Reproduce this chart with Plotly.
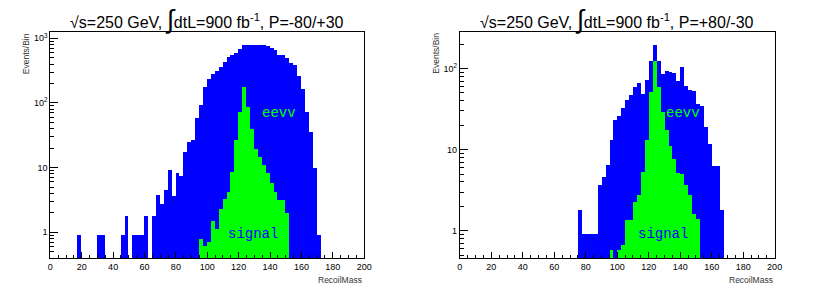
import numpy as np
import plotly.graph_objects as go

# ---- data (80 bins of 2.5 GeV from 0 to 200) ----
bin_edges = np.arange(0, 200.001, 2.5)
bin_centers = (bin_edges[:-1] + bin_edges[1:]) / 2

left_eevv = [
    0, 0, 0, 0, 0, 0, 0, 0.91, 0, 0,
    0, 0, 0.91, 0.91, 0, 0, 0, 0, 0.91, 1.81,
    0, 0.91, 0.91, 0.91, 1.81, 0, 1.81, 3.77, 2.74, 4.51,
    9.2, 3.64, 8.2, 7.4, 17.5, 24.9, 26.7, 58, 93, 175,
    235, 277, 316, 356, 435, 508, 552, 586, 683, 797,
    778, 787, 797, 778, 778, 769, 716, 659, 558, 552,
    490, 410, 386, 261, 162, 73, 36, 9.75, 0.91, 0,
    0, 0, 0, 0, 0, 0, 0, 0, 0, 0,
]
left_signal = [
    0, 0, 0, 0, 0, 0, 0, 0, 0, 0,
    0, 0, 0, 0, 0, 0, 0, 0, 0, 0,
    0, 0, 0, 0, 0, 0, 0, 0, 0, 0,
    0, 0, 0, 0, 0, 0, 0, 0, 0.79, 0.61,
    0.71, 1.5, 1.11, 2.27, 3.24, 4.15, 8.65, 26.7, 73, 175,
    86, 39, 19.2, 14.8, 11, 8.2, 5.85, 4.25, 3.16, 3.16,
    2.01, 0, 0, 0, 0, 0, 0, 0, 0, 0,
    0, 0, 0, 0, 0, 0, 0, 0, 0, 0,
]
right_eevv = [
    0, 0, 0, 0, 0, 0, 0, 0, 0, 0,
    0, 0, 0, 0, 0, 0, 0, 0, 0, 0,
    0, 0, 0, 0, 0, 0, 0, 0, 0, 0,
    1.8, 0.9, 0.9, 0.9, 0.9, 3.65, 4.6, 6.45, 13.1, 23.1,
    25.9, 32.2, 40.7, 46.9, 59.3, 66.5, 49.2, 71.8, 125, 194,
    124, 86.8, 93.5, 90.8, 88.3, 70.3, 104.7, 60.5, 54, 53,
    36.3, 34.3, 19.1, 11.7, 6.26, 6.26, 1.8, 0, 0, 0,
    0, 0, 0, 0, 0, 0, 0, 0, 0, 0,
]
right_signal = [
    0, 0, 0, 0, 0, 0, 0, 0, 0, 0,
    0, 0, 0, 0, 0, 0, 0, 0, 0, 0,
    0, 0, 0, 0, 0, 0, 0, 0, 0, 0,
    0, 0, 0, 0, 0, 0, 0, 0, 0.58, 0,
    0.58, 0.67, 1.36, 1.36, 2.28, 2.75, 5.33, 13.1, 51.5, 124,
    59.3, 29.2, 17.4, 11.0, 7.57, 5.09, 4.99, 3.65, 2.75, 1.6,
    1.4, 0, 0, 0, 0, 0, 0, 0, 0, 0,
    0, 0, 0, 0, 0, 0, 0, 0, 0, 0,
]

titles = [
    "√s=250 GeV, <span style='font-size:26px'>∫</span>dtL=900 fb<sup>-1</sup>, P=-80/+30",
    "√s=250 GeV, <span style='font-size:26px'>∫</span>dtL=900 fb<sup>-1</sup>, P=+80/-30",
]
x_tick_vals = list(range(0, 201, 20))
y_tick_vals = [1, 10, 100, 1000]
y_tick_text = ["1", "10", "10<sup>2</sup>", "10<sup>3</sup>"]

BLUE = "#0000ff"
GREEN = "#00ff00"
FONT = "Liberation Sans, Arial, sans-serif"
MONO = "Liberation Mono, Courier New, monospace"

W, H = 830, 289


def clean(v):
    return [None if val == 0 else val for val in v]


fig = go.Figure()
panels = [
    dict(eevv=left_eevv, sig=left_signal, xa="x", ya="y"),
    dict(eevv=right_eevv, sig=right_signal, xa="x2", ya="y2"),
]
for p in panels:
    fig.add_trace(go.Bar(x=bin_centers, y=clean(p["eevv"]), width=2.5,
                         marker=dict(color=BLUE, line=dict(width=0)),
                         xaxis=p["xa"], yaxis=p["ya"], showlegend=False,
                         hoverinfo="skip"))
    fig.add_trace(go.Bar(x=bin_centers, y=clean(p["sig"]), width=2.5,
                         marker=dict(color=GREEN, line=dict(width=0)),
                         xaxis=p["xa"], yaxis=p["ya"], showlegend=False,
                         hoverinfo="skip"))

minor_log = [m * 10 ** k for k in range(-1, 4) for m in range(2, 10)]


def xaxis(domain):
    return dict(domain=domain, range=[0, 200], tickvals=x_tick_vals,
                ticks="inside", ticklen=6, tickwidth=1, tickcolor="black",
                showline=True, linecolor="black", linewidth=1, mirror=True,
                showgrid=False, zeroline=False,
                tickfont=dict(family=FONT, size=9, color="black"),
                minor=dict(dtick=5, tick0=0, ticks="inside", ticklen=3,
                           tickcolor="black", showgrid=False))


def yaxis(domain, rng, anchor):
    return dict(domain=domain, type="log", range=rng, anchor=anchor,
                tickvals=y_tick_vals, ticktext=y_tick_text,
                ticks="inside", ticklen=8, tickwidth=1, tickcolor="black",
                showline=True, linecolor="black", linewidth=1, mirror=True,
                showgrid=False, zeroline=False,
                tickfont=dict(family=FONT, size=9, color="black"),
                minor=dict(tickvals=minor_log, ticks="inside", ticklen=4,
                           tickcolor="black", showgrid=False))


ydom = [1 - 258 / H, 1 - 32 / H]
fig.update_layout(
    width=W, height=H, margin=dict(l=0, r=0, t=0, b=0),
    paper_bgcolor="white", plot_bgcolor="white",
    barmode="overlay", bargap=0,
    xaxis=xaxis([48 / W, 366 / W]),
    yaxis=yaxis(ydom, [-0.397, 3.097], "x"),
    xaxis2=dict(xaxis([463 / W, 782 / W]), anchor="y2"),
    yaxis2=yaxis(ydom, [-0.336, 2.451], "x2"),
)

ann = []
for cx, title in zip([207, 622.5], titles):
    ann.append(dict(x=cx / W, y=1 - 19 / H, xref="paper", yref="paper",
                    text=title, showarrow=False, xanchor="center", yanchor="middle",
                    font=dict(family=FONT, size=16, color="black")))
for xl in [24, 439]:
    ann.append(dict(x=xl / W, y=1 - 31 / H, xref="paper", yref="paper",
                    text="Events/Bin", textangle=-90, showarrow=False,
                    xanchor="center", yanchor="top",
                    font=dict(family=FONT, size=8.5, color="#333")))
for xr in [366, 782]:
    ann.append(dict(x=xr / W, y=1 - 280 / H, xref="paper", yref="paper",
                    text="RecoilMass", showarrow=False,
                    xanchor="right", yanchor="middle",
                    font=dict(family=FONT, size=8.5, color="#333")))
# in-plot labels
ann.append(dict(x=146, y=np.log10(70), xref="x", yref="y", text="eevv",
                showarrow=False, font=dict(family=MONO, size=14, color=GREEN)))
ann.append(dict(x=129, y=np.log10(0.93), xref="x", yref="y", text="signal",
                showarrow=False, font=dict(family=MONO, size=14, color=BLUE)))
ann.append(dict(x=141.7, y=np.log10(28.4), xref="x2", yref="y2", text="eevv",
                showarrow=False, font=dict(family=MONO, size=14, color=GREEN)))
ann.append(dict(x=128.8, y=np.log10(0.9), xref="x2", yref="y2", text="signal",
                showarrow=False, font=dict(family=MONO, size=14, color=BLUE)))
fig.update_layout(annotations=ann)

fig.write_html("out.html", config={"displayModeBar": False},
               post_script="document.body.style.margin='0';"
                           "document.body.style.overflow='hidden';")
